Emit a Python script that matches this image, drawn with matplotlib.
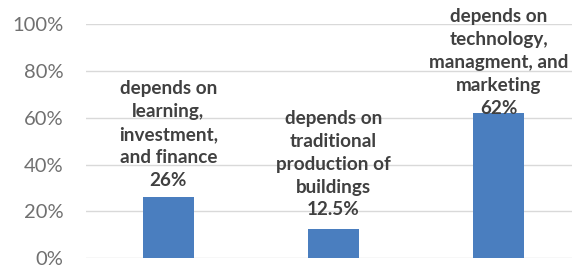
import matplotlib
matplotlib.use("Agg")
import matplotlib.pyplot as plt
from matplotlib.ticker import FuncFormatter

plt.rcParams['font.family'] = ['Lato', 'DejaVu Sans']

# data
categories = ["learning", "traditional", "technology"]
values = [26, 12.5, 62]
labels = [
    "depends on\nlearning,\ninvestment,\nand finance\n26%",
    "depends on\ntraditional\nproduction of\nbuildings\n12.5%",
    "depends on\ntechnology,\nmanagment, and\nmarketing\n62%",
]
yticks = [0, 20, 40, 60, 80, 100]

# label gap above each bar (points) - last one got squeezed against the top
label_pad = [6, 7.5, -2.5]

fig = plt.figure(figsize=(5.72, 2.65), dpi=100)
ax = fig.add_axes([0.150, 0.026, 0.866, 0.883])

x = list(range(len(categories)))
ax.bar(x, values, width=0.31, color="#4a7ebf", zorder=3)

for xi, v, lab, pad in zip(x, values, labels, label_pad):
    ax.annotate(lab, (xi, v), xytext=(0, pad), textcoords="offset points",
                ha="center", va="bottom", fontsize=13.6, fontweight="bold",
                color="#404040", linespacing=1.42, zorder=4,
                annotation_clip=False)

ax.set_xlim(-0.5, 2.5)
ax.set_ylim(0, 100)
ax.set_yticks(yticks)
ax.yaxis.set_major_formatter(FuncFormatter(lambda v, p: "%d%%" % v))
ax.tick_params(axis="y", length=0, pad=16, labelsize=14.5, labelcolor="#707070")
ax.set_xticks([])
ax.grid(axis="y", color="#d9d9d9", linewidth=1, zorder=0)
for s in ax.spines.values():
    s.set_visible(False)

fig.savefig("out.png", dpi=100)
